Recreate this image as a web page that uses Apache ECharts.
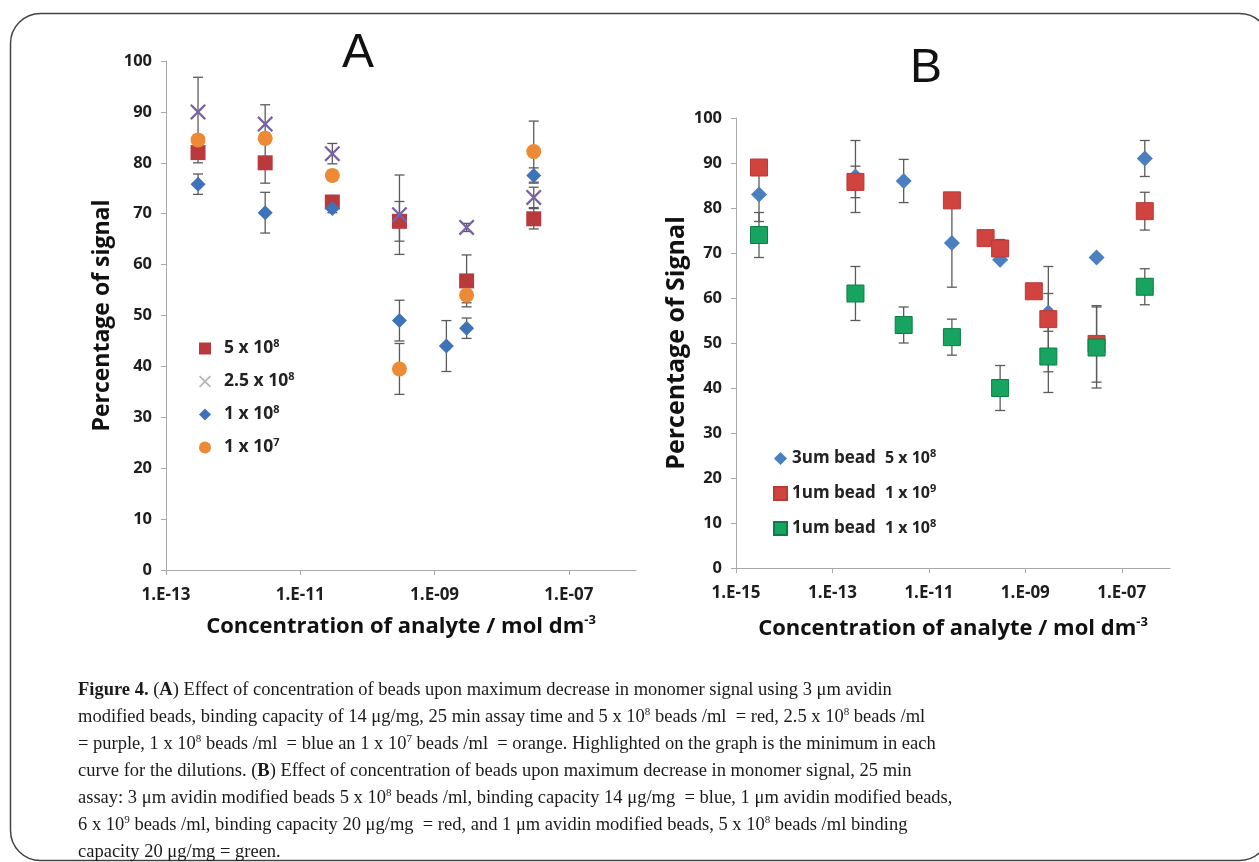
<!DOCTYPE html>
<html>
<head>
<meta charset="utf-8">
<script src="https://cdn.jsdelivr.net/npm/echarts@6/dist/echarts.min.js"></script>
<style>
html, body { margin: 0; padding: 0; background: #fff; }
#main { width: 1259px; height: 862px; }
</style>
</head>
<body>
<div id="main"></div>
<script>
// ---- panel A: concentration (mol dm-3) and % signal, null = no point
var concA = [3e-13, 3e-12, 3e-11, 3e-10, 1.5e-9, 3e-9, 3e-8];
var redA = [82, 80, 72.3, 68.5, null, 56.8, 69];
var redAErr = [2, 4, 1, 3.9, null, 5.1, 2];
var purpleA = [90, 87.6, 81.8, 69.8, null, 67.3, 73.2];
var purpleAErr = [6.8, 3.8, 2, 7.8, null, 0.8, 2];
var blueA = [75.8, 70.2, 71, 49, 44, 47.5, 77.5];
var blueAErr = [2, 4, 0.8, 4, 5, 2, 1.5];
var orangeA = [84.5, 84.8, 77.5, 39.5, null, 54, 82.2];
var orangeAErr = [1, 1, 1, 5, null, 1.5, 6];

// ---- panel B
var concB = [3e-15, 3e-13, 3e-12, 3e-11, 1.5e-10, 3e-10, 1.5e-9, 3e-9, 3e-8, 3e-7];
var blueB = [83, 87, 86, 72.2, null, 68.5, null, 56.8, 69, 91];
var blueBErr = [6, 8, 4.8, 9.8, null, 0, null, 4.2, 0, 4];
var redB = [89, 85.8, null, 81.7, 73.3, 71, 61.5, 55.3, 49.8, 79.3];
var redBErr = [0, 3.5, null, 1.7, 0, 2, 0, 11.7, 8.5, 4.2];
var greenB = [74, 61, 54, 51.3, null, 40, null, 47, 49, 62.5];
var greenBErr = [5, 6, 4, 4, null, 5, null, 8, 9, 4];

var ticksA = [-13, -11, -9, -7];
var ticksB = [-15, -13, -11, -9, -7];

var namesA = ['5 x 10^8', '2.5 x 10^8', '1 x 10^8', '1 x 10^7'];
var namesB = ['3um bead   5 x 10^8', '1um bead   1 x 10^9', '1um bead   1 x 10^8'];

var captionLines = [
    '{b|Figure 4.} ({b|A}) Effect of concentration of beads upon maximum decrease in monomer signal using 3 μm avidin',
    'modified beads, binding capacity of 14 μg/mg, 25 min assay time and 5 x 10{s|8} beads /ml  = red, 2.5 x 10{s|8} beads /ml',
    '= purple, 1 x 10{s|8} beads /ml  = blue an 1 x 10{s|7} beads /ml  = orange. Highlighted on the graph is the minimum in each',
    'curve for the dilutions. ({b|B}) Effect of concentration of beads upon maximum decrease in monomer signal, 25 min',
    'assay: 3 μm avidin modified beads 5 x 10{s|8} beads /ml, binding capacity 14 μg/mg  = blue, 1 μm avidin modified beads,',
    '6 x 10{s|9} beads /ml, binding capacity 20 μg/mg  = red, and 1 μm avidin modified beads, 5 x 10{s|8} beads /ml binding',
    'capacity 20 μg/mg = green.'
];

var sans = 'Open Sans';
var xMark = 'path://M0,1L1,0L5,4L9,0L10,1L6,5L10,9L9,10L5,6L1,10L0,9L4,5Z';

function pts(conc, vals, errs) {
    var out = [];
    for (var i = 0; i < conc.length; i++) {
        if (vals[i] == null) continue;
        out.push([Math.log10(conc[i]), vals[i], errs[i]]);
    }
    return out;
}

function errRender(params, api) {
    var e = api.value(2);
    if (!e) return;
    var x = api.value(0), y = api.value(1);
    var hi = api.coord([x, y + e]);
    var lo = api.coord([x, y - e]);
    var w = 5;
    var st = { stroke: '#5b5b5b', lineWidth: 1.3 };
    return {
        type: 'group',
        children: [
            { type: 'line', shape: { x1: hi[0], y1: hi[1], x2: lo[0], y2: lo[1] }, style: st },
            { type: 'line', shape: { x1: hi[0] - w, y1: hi[1], x2: hi[0] + w, y2: hi[1] }, style: st },
            { type: 'line', shape: { x1: lo[0] - w, y1: lo[1], x2: lo[0] + w, y2: lo[1] }, style: st }
        ]
    };
}

function errSeries(idx, data) {
    return {
        type: 'custom', xAxisIndex: idx, yAxisIndex: idx, z: 1,
        renderItem: errRender, data: data, encode: { x: 0, y: 1 },
        silent: true
    };
}

function dotSeries(idx, name, data, symbol, size, color, border) {
    return {
        type: 'scatter', name: name, xAxisIndex: idx, yAxisIndex: idx, z: 3,
        symbol: symbol, symbolSize: size, data: data,
        itemStyle: { color: color, borderColor: border || color, borderWidth: border ? 1 : 0, opacity: 1 }
    };
}

// legend B: "3um bead" then the bead count in a second column
function supFmt(name) {
    var m = name.match(/^(.*?)\s{2,}(.*)$/);
    return '{a|' + m[1] + '}{g|' + m[2].replace(/\^(\d+)/, '}{s|$1}');
}

function xLabel(v) {
    var n = Math.round(-v);
    return '1.E-' + (n < 10 ? '0' + n : n);
}

var tickLine = { color: '#a9a9a9', width: 1 };

function xAxis(idx, min, ticks, gap) {
    return {
        gridIndex: idx, type: 'value', min: min, max: -6,
        splitLine: { show: false },
        axisLine: { show: true, lineStyle: tickLine },
        axisTick: { show: true, length: 5, inside: false, lineStyle: tickLine, customValues: ticks },
        axisLabel: {
            customValues: ticks, formatter: xLabel, margin: 17,
            fontFamily: sans, fontWeight: 'bold', fontSize: 17, color: '#1e1e1e'
        },
        name: '{t|Concentration of analyte / mol dm}{s|-3}',
        nameLocation: 'middle', nameGap: gap,
        nameTextStyle: {
            rich: {
                t: { fontFamily: sans, fontWeight: 'bold', fontSize: 22, color: '#111', lineHeight: 26 },
                s: { fontFamily: sans, fontWeight: 'bold', fontSize: 13, color: '#111', lineHeight: 13, padding: [0, 0, 13, 0] }
            }
        }
    };
}

function yAxis(idx, title, size, gap) {
    return {
        gridIndex: idx, type: 'value', min: 0, max: 100, interval: 10,
        splitLine: { show: false },
        axisLine: { show: true, lineStyle: tickLine },
        axisTick: { show: true, length: 5, inside: false, lineStyle: tickLine },
        axisLabel: { margin: 14, fontFamily: sans, fontWeight: 'bold', fontSize: 16.5, color: '#1e1e1e' },
        name: title, nameLocation: 'middle', nameGap: gap, nameRotate: 90,
        nameTextStyle: { fontFamily: sans, fontWeight: 'bold', fontSize: size, color: '#111' }
    };
}

var supRich = { fontFamily: sans, fontWeight: 'bold', fontSize: 11, color: '#222', lineHeight: 11, padding: [0, 0, 10, 0] };

var captionGraphics = captionLines.map(function (line, i) {
    return {
        type: 'text', left: 78, top: 680 + i * 27, silent: true,
        style: {
            text: line, fill: '#1a1a1a',
            fontFamily: 'Liberation Serif', fontSize: 18.5, lineHeight: 21,
            rich: {
                b: { fontFamily: 'Liberation Serif', fontSize: 18.5, fontWeight: 'bold', lineHeight: 21, fill: '#1a1a1a' },
                s: { fontFamily: 'Liberation Serif', fontSize: 11, lineHeight: 11, padding: [0, 0, 10, 0], fill: '#1a1a1a' }
            }
        }
    };
});

var chart = echarts.init(document.getElementById('main'));
chart.setOption({
    backgroundColor: '#fff',
    animation: false,
    grid: [
        { left: 166, top: 61, width: 470, height: 509 },
        { left: 736, top: 118, width: 434, height: 450 }
    ],
    xAxis: [xAxis(0, -13, ticksA, 44), xAxis(1, -15, ticksB, 48)],
    yAxis: [yAxis(0, 'Percentage of signal', 23, 52), yAxis(1, 'Percentage of Signal', 25, 42)],
    legend: [
        {
            left: 194, top: 333, orient: 'vertical', itemGap: 12, itemWidth: 12, itemHeight: 12,
            data: [namesA[0], { name: namesA[1], itemStyle: { color: '#b4b4b4' } }, namesA[2], namesA[3]],
            formatter: function (n) { return n.replace(/\^(\d+)/, '{s|$1}'); },
            textStyle: {
                fontFamily: sans, fontWeight: 'bold', fontSize: 17.5, color: '#222', lineHeight: 20, padding: [0, 0, 0, 8],
                rich: { s: supRich }
            }
        },
        {
            left: 768, top: 443, orient: 'vertical', itemGap: 14, itemWidth: 13, itemHeight: 13,
            data: namesB,
            formatter: supFmt,
            textStyle: {
                fontFamily: sans, fontWeight: 'bold', fontSize: 17, color: '#222', lineHeight: 21,
                rich: {
                    a: { fontFamily: sans, fontWeight: 'bold', fontSize: 17, color: '#222', lineHeight: 21, width: 93 },
                    g: { fontFamily: sans, fontWeight: 'bold', fontSize: 16, color: '#222', lineHeight: 21 },
                    s: supRich
                }
            }
        }
    ],
    graphic: [
        {
            type: 'rect', silent: true,
            shape: { x: 10.5, y: 13.5, width: 1259, height: 847, r: 30 },
            style: { fill: 'none', stroke: '#444', lineWidth: 1.5 }
        },
        {
            type: 'text', left: 342, top: 30, silent: true,
            style: { text: 'A', fontFamily: 'Liberation Sans', fontSize: 48, fill: '#111' }
        },
        {
            type: 'text', left: 910, top: 45, silent: true,
            style: { text: 'B', fontFamily: 'Liberation Sans', fontSize: 48, fill: '#111' }
        }
    ].concat(captionGraphics),
    series: [
        errSeries(0, pts(concA, redA, redAErr)),
        errSeries(0, pts(concA, purpleA, purpleAErr)),
        errSeries(0, pts(concA, blueA, blueAErr)),
        errSeries(0, pts(concA, orangeA, orangeAErr)),
        dotSeries(0, namesA[0], pts(concA, redA, redAErr), 'rect', 15, '#b83a3c'),
        dotSeries(0, namesA[1], pts(concA, purpleA, purpleAErr), xMark, 16, '#7862a3'),
        dotSeries(0, namesA[2], pts(concA, blueA, blueAErr), 'diamond', 15, '#3e73b9'),
        dotSeries(0, namesA[3], pts(concA, orangeA, orangeAErr), 'circle', 15, '#ec8a36'),
        errSeries(1, pts(concB, blueB, blueBErr)),
        errSeries(1, pts(concB, redB, redBErr)),
        errSeries(1, pts(concB, greenB, greenBErr)),
        dotSeries(1, namesB[0], pts(concB, blueB, blueBErr), 'diamond', 16, '#4a7fc0'),
        dotSeries(1, namesB[1], pts(concB, redB, redBErr), 'rect', 17, '#d0433f', '#b93a37'),
        dotSeries(1, namesB[2], pts(concB, greenB, greenBErr), 'rect', 17, '#16a460', '#0d7d47')
    ]
});
</script>
</body>
</html>
